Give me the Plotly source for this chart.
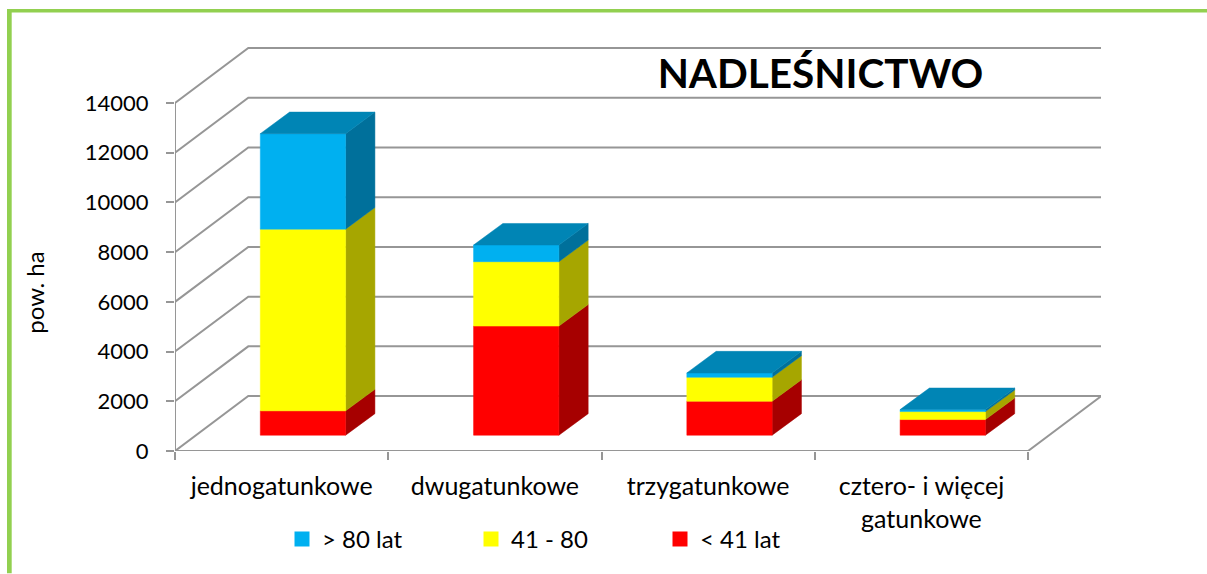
import plotly.graph_objects as go

categories = ["jednogatunkowe", "dwugatunkowe", "trzygatunkowe", "cztero- i więcej<br>gatunkowe"]
series_names = ["> 80 lat", "41 - 80", "< 41 lat"]
young = [980, 4390, 1365, 630]
middle = [7310, 2590, 965, 320]
old = [3840, 670, 175, 80]
y_ticks = [0, 2000, 4000, 6000, 8000, 10000, 12000, 14000]

FRONT = {"< 41 lat": "#FF0000", "41 - 80": "#FFFF00", "> 80 lat": "#00B0F0"}
SIDE = {"< 41 lat": "#A60000", "41 - 80": "#A6A600", "> 80 lat": "#00709B"}
TOP_COLOR = "#0085B5"
GRID = "#969696"
FONT = "Lato"

# oblique projection (x in category units, y in value units)
WALL_DX, WALL_DY = 0.3437, 2210
BAR_DX, BAR_DY = 0.1374, 868
BASE_X, BASE_Y = 0.0, 635
BAR_START, BAR_W = 0.40, 0.40
XMAX, YMAX = 4.342, 16292

stack = [("< 41 lat", young), ("41 - 80", middle), ("> 80 lat", old)]
fig = go.Figure()


def line(xs, ys):
    fig.add_trace(go.Scatter(x=xs, y=ys, mode="lines", line=dict(color=GRID, width=2),
                             cliponaxis=False, showlegend=False, hoverinfo="skip"))


def poly(xs, ys, color, name):
    fig.add_trace(go.Scatter(x=xs, y=ys, mode="lines", fill="toself", fillcolor=color,
                             line=dict(color=color, width=0.5), cliponaxis=False,
                             showlegend=False, name=name, hoverinfo="name"))


gx, gy = [], []
for v in y_ticks:
    gx += [0, WALL_DX, XMAX, None]
    gy += [v, v + WALL_DY, v + WALL_DY, None]
gx += [0, 4, 4 + WALL_DX, None, 0, 0]
gy += [0, 0, WALL_DY, None, 0, y_ticks[-1]]
line(gx, gy)

bases = [BASE_Y] * len(categories)
for name, vals in stack:
    sx, sy, fx, fy = [], [], [], []
    for i, v in enumerate(vals):
        l = i + BAR_START
        r = l + BAR_W
        b = bases[i]
        t = b + v
        fx += [l, r, r, l, l, None]
        fy += [b, b, t, t, b, None]
        sx += [r, r + BAR_DX, r + BAR_DX, r, r, None]
        sy += [b, b + BAR_DY, t + BAR_DY, t, b, None]
        bases[i] = t
    poly(sx, sy, SIDE[name], name)
    poly(fx, fy, FRONT[name], name)

tx, ty = [], []
for i, t in enumerate(bases):
    l = i + BAR_START
    r = l + BAR_W
    tx += [l, r, r + BAR_DX, l + BAR_DX, l, None]
    ty += [t, t, t + BAR_DY, t + BAR_DY, t, None]
poly(tx, ty, TOP_COLOR, series_names[0])

for name in series_names:
    fig.add_trace(go.Scatter(x=[None], y=[None], mode="markers", name=name,
                             marker=dict(symbol="square", size=15, color=FRONT[name]),
                             showlegend=True))

W, H = 1207, 574
L, R, T, B = 175, 1101, 46, 451.5
pw, ph = R - L, B - T


def px(x):
    return (x - L) / pw


def py(y):
    return (B - y) / ph


BORDER = "#92D050"
shapes = [
    dict(type="rect", xref="paper", yref="paper", x0=px(7), x1=px(W), y0=py(9), y1=py(12.5),
         fillcolor=BORDER, line=dict(width=0), layer="below"),
    dict(type="rect", xref="paper", yref="paper", x0=px(7), x1=px(11.7), y0=py(9), y1=py(H),
         fillcolor=BORDER, line=dict(width=0), layer="below"),
]

fig.update_layout(
    width=W, height=H,
    margin=dict(l=L, r=W - R, t=T, b=H - B, pad=0),
    paper_bgcolor="white", plot_bgcolor="rgba(0,0,0,0)",
    font=dict(family=FONT, size=24, color="black"),
    title=dict(text="<b>NADLEŚNICTWO</b>", x=820.5 / W, y=1 - 74 / H, xanchor="center", yanchor="middle",
               font=dict(family=FONT, size=40.5, color="black")),
    shapes=shapes,
    annotations=[dict(text="pow. ha", xref="paper", yref="paper", x=px(35), y=py(293),
                      xanchor="center", yanchor="middle", textangle=-90, showarrow=False,
                      font=dict(size=24))],
    xaxis=dict(range=[0, XMAX], showgrid=False, zeroline=False, showline=False,
               tickmode="array", tickvals=[i + 0.5 for i in range(4)], ticktext=categories,
               tickfont=dict(size=25), ticks="", ticklen=0, ticklabelstandoff=18,
               minor=dict(tickmode="array", tickvals=[0, 1, 2, 3, 4], ticks="outside", ticklen=8,
                          tickwidth=2, tickcolor=GRID, showgrid=False),
               fixedrange=True),
    yaxis=dict(range=[0, YMAX], showgrid=False, zeroline=False, showline=False,
               tickmode="array", tickvals=y_ticks, ticktext=[str(v) for v in y_ticks],
               tickfont=dict(size=22), ticks="outside", ticklen=8, tickwidth=2,
               ticklabelstandoff=13, tickcolor=GRID, fixedrange=True),
    legend=dict(orientation="h", x=px(282), xanchor="left", y=py(540), yanchor="middle",
                entrywidth=144, entrywidthmode="pixels", itemsizing="trace",
                traceorder="normal", bgcolor="rgba(0,0,0,0)", font=dict(size=24)),
)

fig.write_html("out.html", config={"displayModeBar": False},
               post_script="document.body.style.margin='0';window.dispatchEvent(new Event('resize'));")
